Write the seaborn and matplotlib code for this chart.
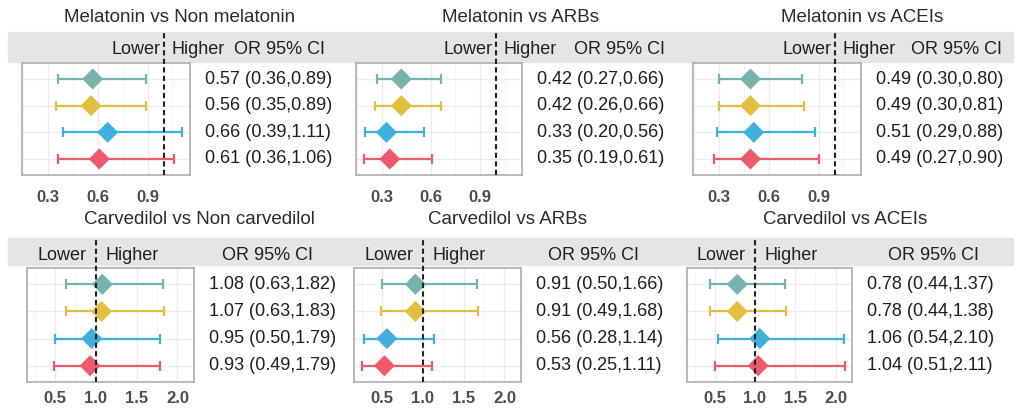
import matplotlib
matplotlib.use("Agg")
import matplotlib.pyplot as plt
import matplotlib.transforms as mtransforms
import pandas as pd
import seaborn as sns

sns.set_theme(style="white")
plt.rcParams["font.family"] = ["Liberation Sans", "DejaVu Sans"]

# ---- data ----
titles = ["Melatonin vs Non melatonin", "Melatonin vs ARBs", "Melatonin vs ACEIs",
          "Carvedilol vs Non carvedilol", "Carvedilol vs ARBs", "Carvedilol vs ACEIs"]
models = ["m1", "m2", "m3", "m4"]
or_vals = [[0.57, 0.56, 0.66, 0.61], [0.42, 0.42, 0.33, 0.35], [0.49, 0.49, 0.51, 0.49],
           [1.08, 1.07, 0.95, 0.93], [0.91, 0.91, 0.56, 0.53], [0.78, 0.78, 1.06, 1.04]]
lo_vals = [[0.36, 0.35, 0.39, 0.36], [0.27, 0.26, 0.20, 0.19], [0.30, 0.30, 0.29, 0.27],
           [0.63, 0.63, 0.50, 0.49], [0.50, 0.49, 0.28, 0.25], [0.44, 0.44, 0.54, 0.51]]
hi_vals = [[0.89, 0.89, 1.11, 1.06], [0.66, 0.66, 0.56, 0.61], [0.80, 0.81, 0.88, 0.90],
           [1.82, 1.83, 1.79, 1.79], [1.66, 1.68, 1.14, 1.11], [1.37, 1.38, 2.10, 2.11]]
row_major = [[0.3, 0.6, 0.9], [0.5, 1.0, 1.5, 2.0]]
row_minor = [[0.15, 0.45, 0.75, 1.05], [0.25, 0.75, 1.25, 1.75]]
tick_labels = [["0.3", "0.6", "0.9"], ["0.5", "1.0", "1.5", "2.0"]]

colors = ["#76B3AD", "#E2C03E", "#3FB0DD", "#EE5A6C"]
palette = dict(zip(models, colors))

W, H = 1016, 412
fig = plt.figure(figsize=(W / 100, H / 100), dpi=100)

# layout in pixels
boxes = [(22, 190, 63, 175), (356, 522, 63, 175), (693, 861, 63, 175),
         (27, 194, 268, 382), (354, 521, 268, 382), (687, 852, 268, 382)]
title_pos = [(180, 17), (520, 17), (862, 17), (199, 220), (508, 220), (845, 220)]
strips = [(32, 62), (238, 265)]
head_y = [49, 255]
ci_head = [(325, "right"), (665, "right"), (1002, "right"),
           (268, "center"), (594, "center"), (933, "center")]
lh_off = [(-4, 7), (-9, 10)]
tick_pad = [8, 4]

txt_col = "#1F1F1F"

# grey header strips across each row (behind the axes)
for y0, y1 in strips:
    fig.patches.append(plt.Rectangle((8 / W, 1 - y1 / H), (1013 - 8) / W, (y1 - y0) / H,
                                     transform=fig.transFigure, color="#E5E5E5", zorder=-1))

for i in range(6):
    row = i // 3
    x0, x1, y0, y1 = boxes[i]
    ax = fig.add_axes([x0 / W, 1 - y1 / H, (x1 - x0) / W, (y1 - y0) / H])
    df = pd.DataFrame({"model": models, "OR": or_vals[i], "lo": lo_vals[i],
                       "hi": hi_vals[i], "y": [4, 3, 2, 1]})
    for _, r in df.iterrows():
        ax.errorbar(r["OR"], r["y"], xerr=[[r["OR"] - r["lo"]], [r["hi"] - r["OR"]]],
                    fmt="none", ecolor=palette[r["model"]], elinewidth=1.6,
                    capsize=3.6, capthick=1.6, zorder=3)
    sns.scatterplot(data=df, x="OR", y="y", hue="model", palette=palette, marker="D",
                    s=115, linewidth=0, legend=False, ax=ax, zorder=4)

    # row-wide limits (5% expansion) and discrete y expansion
    if row == 0:
        ax.set_xlim(0.144, 1.156)
    else:
        ax.set_xlim(0.157, 2.203)
    ax.set_ylim(0.4, 4.6)
    ax.set_xticks(row_major[row])
    ax.set_xticks(row_minor[row], minor=True)
    ax.set_xticklabels(tick_labels[row])
    ax.set_yticks([1, 2, 3, 4])
    ax.set_yticklabels([])
    ax.set_xlabel("")
    ax.set_ylabel("")
    ax.grid(True, which="major", color="#EBEBEB", lw=0.9)
    ax.grid(True, which="minor", axis="x", color="#F3F3F3", lw=0.6)
    ax.set_axisbelow(True)
    ax.tick_params(axis="x", which="major", length=2.5, width=0.8, color="#555555",
                   labelsize=12, labelcolor="#4D4D4D", pad=tick_pad[row])
    ax.tick_params(axis="x", which="minor", length=0)
    ax.tick_params(axis="y", length=0)
    for lab in ax.get_xticklabels():
        lab.set_fontweight("bold")
    for sp in ax.spines.values():
        sp.set_color("#B3B3B3")
        sp.set_linewidth(1.3)

    # dashed reference line through panel and strip
    top_frac = (y1 - strips[row][0]) / (y1 - y0)
    ax.plot([1, 1], [0, top_frac], transform=ax.get_xaxis_transform(), clip_on=False,
            ls=(0, (2.5, 1.6)), lw=1.5, color="#222222", zorder=5)

    # strip texts
    hy = (y1 - head_y[row]) / (y1 - y0)
    tl = mtransforms.offset_copy(ax.get_xaxis_transform(), fig=fig, x=lh_off[row][0], y=0, units="dots")
    tr = mtransforms.offset_copy(ax.get_xaxis_transform(), fig=fig, x=lh_off[row][1], y=0, units="dots")
    ax.text(1, hy, "Lower", transform=tl, ha="right", va="center", fontsize=13,
            color=txt_col, clip_on=False)
    ax.text(1, hy, "Higher", transform=tr, ha="left", va="center", fontsize=13,
            color=txt_col, clip_on=False)
    cx, cha = ci_head[i]
    fig.text(cx / W, 1 - head_y[row] / H, "OR 95% CI", ha=cha, va="center",
             fontsize=13, color=txt_col)

    # OR labels at right
    tx = mtransforms.offset_copy(ax.get_yaxis_transform(), fig=fig, x=15, y=0, units="dots")
    for _, r in df.iterrows():
        ax.text(1, r["y"], f"{r['OR']:.2f} ({r['lo']:.2f},{r['hi']:.2f})", transform=tx,
                ha="left", va="center", fontsize=13, color=txt_col)

    # title
    tx0, ty0 = title_pos[i]
    fig.text(tx0 / W, 1 - ty0 / H, titles[i], ha="center", va="center",
             fontsize=13.5, color="#2B2B2B")

fig.savefig("out.png", dpi=100)
